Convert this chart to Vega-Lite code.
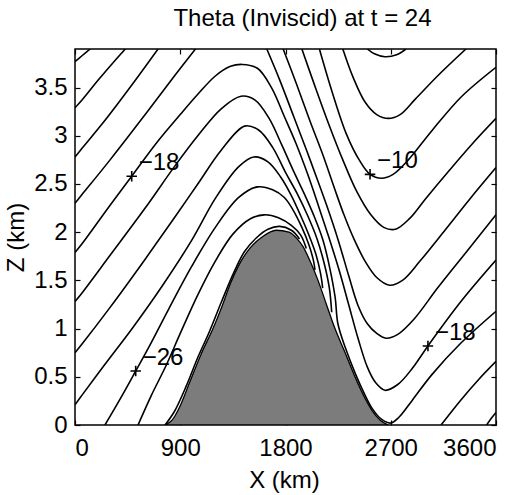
{
  "$schema": "https://vega.github.io/schema/vega-lite/v6.json",
  "width": 421,
  "height": 376,
  "autosize": {"type": "none"},
  "padding": {"left": 75, "top": 49, "right": 32, "bottom": 70},
  "background": "white",
  "config": {
    "view": {"stroke": "black", "strokeWidth": 1.5},
    "axis": {
      "grid": false, "domain": false,
      "labelFont": "Liberation Sans", "labelFontSize": 24, "labelColor": "black",
      "tickColor": "black", "tickSize": -5, "tickWidth": 1.2,
      "titleFont": "Liberation Sans", "titleFontSize": 24, "titleFontWeight": "normal", "titleColor": "black"
    }
  },
  "title": {"text": "Theta (Inviscid) at t = 24", "font": "Liberation Sans", "fontSize": 24, "fontWeight": "normal", "color": "black", "baseline": "alphabetic", "offset": -2, "dx": 17},
  "datasets": {
    "mountain": [
      {"x": 770, "z": 0}, {"x": 830, "z": 0.05}, {"x": 900, "z": 0.2}, {"x": 983, "z": 0.45}, {"x": 1080, "z": 0.74},
      {"x": 1180, "z": 1.0}, {"x": 1260, "z": 1.24}, {"x": 1330, "z": 1.47}, {"x": 1420, "z": 1.7}, {"x": 1500, "z": 1.84},
      {"x": 1600, "z": 1.95}, {"x": 1720, "z": 2.02}, {"x": 1830, "z": 2.0}, {"x": 1900, "z": 1.93}, {"x": 1950, "z": 1.85},
      {"x": 2010, "z": 1.7}, {"x": 2078, "z": 1.5}, {"x": 2150, "z": 1.25}, {"x": 2223, "z": 1.0}, {"x": 2310, "z": 0.75},
      {"x": 2394, "z": 0.5}, {"x": 2470, "z": 0.3}, {"x": 2540, "z": 0.15}, {"x": 2610, "z": 0.05}, {"x": 2680, "z": 0}
    ],
    "contours": [
      {"c": "L10", "i": 1, "x": 0, "z": 3.77}, {"c": "L10", "i": 2, "x": 60, "z": 3.83}, {"c": "L10", "i": 3, "x": 130, "z": 3.9},
      {"c": "L12", "i": 1, "x": 0, "z": 3.29}, {"c": "L12", "i": 2, "x": 60, "z": 3.37}, {"c": "L12", "i": 3, "x": 200, "z": 3.58}, {"c": "L12", "i": 4, "x": 320, "z": 3.75}, {"c": "L12", "i": 5, "x": 430, "z": 3.9},
      {"c": "L14", "i": 1, "x": 0, "z": 2.78}, {"c": "L14", "i": 2, "x": 60, "z": 2.87}, {"c": "L14", "i": 3, "x": 250, "z": 3.15}, {"c": "L14", "i": 4, "x": 500, "z": 3.55}, {"c": "L14", "i": 5, "x": 710, "z": 3.9},
      {"c": "L16", "i": 1, "x": 0, "z": 2.30}, {"c": "L16", "i": 2, "x": 60, "z": 2.39}, {"c": "L16", "i": 3, "x": 300, "z": 2.75}, {"c": "L16", "i": 4, "x": 600, "z": 3.22}, {"c": "L16", "i": 5, "x": 850, "z": 3.62}, {"c": "L16", "i": 6, "x": 1030, "z": 3.9},
      {"c": "L18", "i": 1, "x": 0, "z": 1.79}, {"c": "L18", "i": 2, "x": 60, "z": 1.88}, {"c": "L18", "i": 3, "x": 300, "z": 2.28}, {"c": "L18", "i": 4, "x": 485, "z": 2.58}, {"c": "L18", "i": 5, "x": 700, "z": 2.93},
      {"c": "L18", "i": 6, "x": 900, "z": 3.22}, {"c": "L18", "i": 7, "x": 1050, "z": 3.43}, {"c": "L18", "i": 8, "x": 1200, "z": 3.62}, {"c": "L18", "i": 9, "x": 1330, "z": 3.72}, {"c": "L18", "i": 10, "x": 1430, "z": 3.74},
      {"c": "L18", "i": 11, "x": 1560, "z": 3.7}, {"c": "L18", "i": 12, "x": 1680, "z": 3.5}, {"c": "L18", "i": 13, "x": 1790, "z": 3.2}, {"c": "L18", "i": 14, "x": 1890, "z": 2.92}, {"c": "L18", "i": 15, "x": 1990, "z": 2.6},
      {"c": "L18", "i": 16, "x": 2080, "z": 2.28}, {"c": "L18", "i": 17, "x": 2170, "z": 1.95}, {"c": "L18", "i": 18, "x": 2260, "z": 1.6}, {"c": "L18", "i": 19, "x": 2340, "z": 1.25}, {"c": "L18", "i": 20, "x": 2420, "z": 0.9},
      {"c": "L18", "i": 21, "x": 2500, "z": 0.6}, {"c": "L18", "i": 22, "x": 2570, "z": 0.44}, {"c": "L18", "i": 23, "x": 2650, "z": 0.36}, {"c": "L18", "i": 24, "x": 2760, "z": 0.42}, {"c": "L18", "i": 25, "x": 2880, "z": 0.58},
      {"c": "L18", "i": 26, "x": 3018, "z": 0.82}, {"c": "L18", "i": 27, "x": 3300, "z": 1.28}, {"c": "L18", "i": 28, "x": 3600, "z": 1.71},
      {"c": "L20", "i": 1, "x": 0, "z": 1.28}, {"c": "L20", "i": 2, "x": 60, "z": 1.37}, {"c": "L20", "i": 3, "x": 300, "z": 1.76}, {"c": "L20", "i": 4, "x": 600, "z": 2.25}, {"c": "L20", "i": 5, "x": 850, "z": 2.68},
      {"c": "L20", "i": 6, "x": 1050, "z": 3.0}, {"c": "L20", "i": 7, "x": 1250, "z": 3.28}, {"c": "L20", "i": 8, "x": 1420, "z": 3.41}, {"c": "L20", "i": 9, "x": 1540, "z": 3.37}, {"c": "L20", "i": 10, "x": 1660, "z": 3.18},
      {"c": "L20", "i": 11, "x": 1770, "z": 2.9}, {"c": "L20", "i": 12, "x": 1870, "z": 2.63}, {"c": "L20", "i": 13, "x": 1960, "z": 2.4}, {"c": "L20", "i": 14, "x": 2040, "z": 2.18}, {"c": "L20", "i": 15, "x": 2120, "z": 1.92},
      {"c": "L20", "i": 16, "x": 2180, "z": 1.62}, {"c": "L20", "i": 17, "x": 2225, "z": 1.32}, {"c": "L20", "i": 18, "x": 2248, "z": 1.05}, {"c": "L20", "i": 19, "x": 2315, "z": 0.79}, {"c": "L20", "i": 20, "x": 2398, "z": 0.53},
      {"c": "L20", "i": 21, "x": 2472, "z": 0.33}, {"c": "L20", "i": 22, "x": 2542, "z": 0.17}, {"c": "L20", "i": 23, "x": 2620, "z": 0.06}, {"c": "L20", "i": 24, "x": 2700, "z": 0.02}, {"c": "L20", "i": 25, "x": 2770, "z": 0.08},
      {"c": "L20", "i": 26, "x": 2880, "z": 0.25}, {"c": "L20", "i": 27, "x": 3050, "z": 0.52}, {"c": "L20", "i": 28, "x": 3300, "z": 0.85}, {"c": "L20", "i": 29, "x": 3600, "z": 1.18},
      {"c": "L22", "i": 1, "x": 0, "z": 0.75}, {"c": "L22", "i": 2, "x": 60, "z": 0.84}, {"c": "L22", "i": 3, "x": 300, "z": 1.22}, {"c": "L22", "i": 4, "x": 600, "z": 1.72}, {"c": "L22", "i": 5, "x": 850, "z": 2.15},
      {"c": "L22", "i": 6, "x": 1050, "z": 2.5}, {"c": "L22", "i": 7, "x": 1250, "z": 2.85}, {"c": "L22", "i": 8, "x": 1450, "z": 3.1}, {"c": "L22", "i": 9, "x": 1570, "z": 3.06}, {"c": "L22", "i": 10, "x": 1690, "z": 2.88},
      {"c": "L22", "i": 11, "x": 1800, "z": 2.62}, {"c": "L22", "i": 12, "x": 1900, "z": 2.4}, {"c": "L22", "i": 13, "x": 1990, "z": 2.17}, {"c": "L22", "i": 14, "x": 2070, "z": 1.93}, {"c": "L22", "i": 15, "x": 2130, "z": 1.68},
      {"c": "L22", "i": 16, "x": 2175, "z": 1.42}, {"c": "L22", "i": 17, "x": 2195, "z": 1.17},
      {"c": "L24", "i": 1, "x": 0, "z": 0.21}, {"c": "L24", "i": 2, "x": 60, "z": 0.31}, {"c": "L24", "i": 3, "x": 250, "z": 0.62}, {"c": "L24", "i": 4, "x": 500, "z": 1.02}, {"c": "L24", "i": 5, "x": 750, "z": 1.45},
      {"c": "L24", "i": 6, "x": 1000, "z": 1.92}, {"c": "L24", "i": 7, "x": 1200, "z": 2.35}, {"c": "L24", "i": 8, "x": 1400, "z": 2.68}, {"c": "L24", "i": 9, "x": 1530, "z": 2.78}, {"c": "L24", "i": 10, "x": 1650, "z": 2.73},
      {"c": "L24", "i": 11, "x": 1760, "z": 2.57}, {"c": "L24", "i": 12, "x": 1850, "z": 2.38}, {"c": "L24", "i": 13, "x": 1930, "z": 2.17}, {"c": "L24", "i": 14, "x": 2000, "z": 1.97}, {"c": "L24", "i": 15, "x": 2060, "z": 1.77},
      {"c": "L24", "i": 16, "x": 2100, "z": 1.57}, {"c": "L24", "i": 17, "x": 2118, "z": 1.42},
      {"c": "L26", "i": 1, "x": 256, "z": 0}, {"c": "L26", "i": 2, "x": 400, "z": 0.3}, {"c": "L26", "i": 3, "x": 519, "z": 0.56}, {"c": "L26", "i": 4, "x": 650, "z": 0.85}, {"c": "L26", "i": 5, "x": 800, "z": 1.2},
      {"c": "L26", "i": 6, "x": 1000, "z": 1.65}, {"c": "L26", "i": 7, "x": 1200, "z": 2.05}, {"c": "L26", "i": 8, "x": 1400, "z": 2.36}, {"c": "L26", "i": 9, "x": 1560, "z": 2.47}, {"c": "L26", "i": 10, "x": 1690, "z": 2.44},
      {"c": "L26", "i": 11, "x": 1790, "z": 2.36}, {"c": "L26", "i": 12, "x": 1860, "z": 2.24}, {"c": "L26", "i": 13, "x": 1940, "z": 2.05}, {"c": "L26", "i": 14, "x": 2000, "z": 1.87}, {"c": "L26", "i": 15, "x": 2040, "z": 1.7}, {"c": "L26", "i": 16, "x": 2052, "z": 1.61},
      {"c": "L28", "i": 1, "x": 539, "z": 0}, {"c": "L28", "i": 2, "x": 650, "z": 0.3}, {"c": "L28", "i": 3, "x": 780, "z": 0.62}, {"c": "L28", "i": 4, "x": 900, "z": 0.95}, {"c": "L28", "i": 5, "x": 1050, "z": 1.35},
      {"c": "L28", "i": 6, "x": 1200, "z": 1.7}, {"c": "L28", "i": 7, "x": 1350, "z": 1.98}, {"c": "L28", "i": 8, "x": 1500, "z": 2.14}, {"c": "L28", "i": 9, "x": 1620, "z": 2.18}, {"c": "L28", "i": 10, "x": 1740, "z": 2.15},
      {"c": "L28", "i": 11, "x": 1850, "z": 2.07}, {"c": "L28", "i": 12, "x": 1930, "z": 1.97}, {"c": "L28", "i": 13, "x": 1978, "z": 1.83},
      {"c": "L30", "i": 1, "x": 770, "z": 0}, {"c": "L30", "i": 2, "x": 850, "z": 0.14}, {"c": "L30", "i": 3, "x": 950, "z": 0.4}, {"c": "L30", "i": 4, "x": 1050, "z": 0.7}, {"c": "L30", "i": 5, "x": 1150, "z": 0.97},
      {"c": "L30", "i": 6, "x": 1250, "z": 1.27}, {"c": "L30", "i": 7, "x": 1350, "z": 1.56}, {"c": "L30", "i": 8, "x": 1450, "z": 1.8}, {"c": "L30", "i": 9, "x": 1550, "z": 1.94}, {"c": "L30", "i": 10, "x": 1650, "z": 2.03},
      {"c": "L30", "i": 11, "x": 1750, "z": 2.06}, {"c": "L30", "i": 12, "x": 1850, "z": 2.02}, {"c": "L30", "i": 13, "x": 1920, "z": 1.93},
      {"c": "R16", "i": 1, "x": 1640, "z": 3.9}, {"c": "R16", "i": 2, "x": 1750, "z": 3.58}, {"c": "R16", "i": 3, "x": 1870, "z": 3.2}, {"c": "R16", "i": 4, "x": 1980, "z": 2.85}, {"c": "R16", "i": 5, "x": 2080, "z": 2.52},
      {"c": "R16", "i": 6, "x": 2160, "z": 2.25}, {"c": "R16", "i": 7, "x": 2250, "z": 1.92}, {"c": "R16", "i": 8, "x": 2340, "z": 1.55}, {"c": "R16", "i": 9, "x": 2420, "z": 1.24}, {"c": "R16", "i": 10, "x": 2500, "z": 1.05},
      {"c": "R16", "i": 11, "x": 2580, "z": 0.95}, {"c": "R16", "i": 12, "x": 2660, "z": 0.9}, {"c": "R16", "i": 13, "x": 2760, "z": 0.94}, {"c": "R16", "i": 14, "x": 2900, "z": 1.1}, {"c": "R16", "i": 15, "x": 3100, "z": 1.42},
      {"c": "R16", "i": 16, "x": 3350, "z": 1.8}, {"c": "R16", "i": 17, "x": 3600, "z": 2.18},
      {"c": "R14", "i": 1, "x": 1780, "z": 3.9}, {"c": "R14", "i": 2, "x": 1890, "z": 3.55}, {"c": "R14", "i": 3, "x": 2010, "z": 3.15}, {"c": "R14", "i": 4, "x": 2120, "z": 2.8}, {"c": "R14", "i": 5, "x": 2220, "z": 2.45},
      {"c": "R14", "i": 6, "x": 2300, "z": 2.18}, {"c": "R14", "i": 7, "x": 2385, "z": 1.93}, {"c": "R14", "i": 8, "x": 2480, "z": 1.7}, {"c": "R14", "i": 9, "x": 2580, "z": 1.53}, {"c": "R14", "i": 10, "x": 2690, "z": 1.45},
      {"c": "R14", "i": 11, "x": 2800, "z": 1.5}, {"c": "R14", "i": 12, "x": 2950, "z": 1.7}, {"c": "R14", "i": 13, "x": 3150, "z": 2.0}, {"c": "R14", "i": 14, "x": 3380, "z": 2.35}, {"c": "R14", "i": 15, "x": 3600, "z": 2.67},
      {"c": "R12", "i": 1, "x": 1940, "z": 3.9}, {"c": "R12", "i": 2, "x": 2050, "z": 3.52}, {"c": "R12", "i": 3, "x": 2170, "z": 3.12}, {"c": "R12", "i": 4, "x": 2290, "z": 2.75}, {"c": "R12", "i": 5, "x": 2410, "z": 2.42},
      {"c": "R12", "i": 6, "x": 2530, "z": 2.18}, {"c": "R12", "i": 7, "x": 2640, "z": 2.05}, {"c": "R12", "i": 8, "x": 2740, "z": 2.03}, {"c": "R12", "i": 9, "x": 2860, "z": 2.14}, {"c": "R12", "i": 10, "x": 3000, "z": 2.35},
      {"c": "R12", "i": 11, "x": 3200, "z": 2.64}, {"c": "R12", "i": 12, "x": 3400, "z": 2.92}, {"c": "R12", "i": 13, "x": 3600, "z": 3.18},
      {"c": "R10", "i": 1, "x": 2090, "z": 3.9}, {"c": "R10", "i": 2, "x": 2200, "z": 3.45}, {"c": "R10", "i": 3, "x": 2320, "z": 3.02}, {"c": "R10", "i": 4, "x": 2430, "z": 2.75}, {"c": "R10", "i": 5, "x": 2523, "z": 2.6},
      {"c": "R10", "i": 6, "x": 2620, "z": 2.56}, {"c": "R10", "i": 7, "x": 2720, "z": 2.6}, {"c": "R10", "i": 8, "x": 2850, "z": 2.75}, {"c": "R10", "i": 9, "x": 3050, "z": 3.05}, {"c": "R10", "i": 10, "x": 3300, "z": 3.4}, {"c": "R10", "i": 11, "x": 3600, "z": 3.71},
      {"c": "R8", "i": 1, "x": 2290, "z": 3.9}, {"c": "R8", "i": 2, "x": 2380, "z": 3.6}, {"c": "R8", "i": 3, "x": 2480, "z": 3.35}, {"c": "R8", "i": 4, "x": 2580, "z": 3.22}, {"c": "R8", "i": 5, "x": 2680, "z": 3.18},
      {"c": "R8", "i": 6, "x": 2780, "z": 3.22}, {"c": "R8", "i": 7, "x": 2910, "z": 3.38}, {"c": "R8", "i": 8, "x": 3100, "z": 3.62}, {"c": "R8", "i": 9, "x": 3343, "z": 3.9},
      {"c": "R6", "i": 1, "x": 2500, "z": 3.9}, {"c": "R6", "i": 2, "x": 2560, "z": 3.85}, {"c": "R6", "i": 3, "x": 2650, "z": 3.82}, {"c": "R6", "i": 4, "x": 2750, "z": 3.84}, {"c": "R6", "i": 5, "x": 2830, "z": 3.9},
      {"c": "R22", "i": 1, "x": 3130, "z": 0}, {"c": "R22", "i": 2, "x": 3300, "z": 0.26}, {"c": "R22", "i": 3, "x": 3450, "z": 0.47}, {"c": "R22", "i": 4, "x": 3600, "z": 0.66},
      {"c": "R24", "i": 1, "x": 3520, "z": 0}, {"c": "R24", "i": 2, "x": 3560, "z": 0.07}, {"c": "R24", "i": 3, "x": 3600, "z": 0.13}
    ],
    "labels": [
      {"x": 485, "z": 2.58, "label": "−18"},
      {"x": 2523, "z": 2.6, "label": "−10"},
      {"x": 519, "z": 0.56, "label": "−26"},
      {"x": 3018, "z": 0.82, "label": "−18"}
    ]
  },
  "layer": [
    {
      "data": {"name": "mountain"},
      "mark": {"type": "area", "fill": "#7c7c7c", "stroke": "black", "strokeWidth": 1.3, "interpolate": "monotone", "clip": true},
      "encoding": {
        "x": {"field": "x", "type": "quantitative", "scale": {"domain": [0, 3600], "nice": false},
          "axis": {"orient": "bottom", "values": [0, 900, 1800, 2700, 3600], "format": "d", "labelPadding": 16, "title": "X (km)", "titleX": 209, "titleY": 62, "titleBaseline": "alphabetic", "titleAnchor": "start", "titleAlign": "center"}},
        "y": {"field": "z", "type": "quantitative", "scale": {"domain": [0, 3.9], "nice": false, "zero": false},
          "axis": {"orient": "left", "values": [0, 0.5, 1, 1.5, 2, 2.5, 3, 3.5], "format": "~g", "labelPadding": 13, "title": "Z (km)", "titleX": -52, "titleY": 188, "titleBaseline": "alphabetic", "titleAlign": "center", "titleAngle": 270}}
      }
    },
    {
      "data": {"name": "contours"},
      "mark": {"type": "line", "color": "black", "strokeWidth": 1.6, "interpolate": "catmull-rom", "clip": true},
      "encoding": {
        "x": {"field": "x", "type": "quantitative", "axis": null},
        "y": {"field": "z", "type": "quantitative", "axis": null},
        "detail": {"field": "c"},
        "order": {"field": "i", "type": "quantitative"}
      }
    },
    {
      "data": {"name": "labels"},
      "mark": {"type": "point", "shape": "M-1,0L1,0M0,-1L0,1", "size": 110, "filled": false, "stroke": "black", "strokeWidth": 1.6, "opacity": 1},
      "encoding": {
        "x": {"field": "x", "type": "quantitative", "axis": {"orient": "top", "labels": false, "title": null, "values": [0, 900, 1800, 2700, 3600]}},
        "y": {"field": "z", "type": "quantitative", "axis": {"orient": "right", "labels": false, "title": null, "values": [0, 0.5, 1, 1.5, 2, 2.5, 3, 3.5]}}
      }
    },
    {
      "data": {"name": "labels"},
      "mark": {"type": "text", "align": "left", "baseline": "middle", "dx": 7, "dy": -13, "font": "Liberation Sans", "fontSize": 24, "color": "black"},
      "encoding": {
        "x": {"field": "x", "type": "quantitative", "axis": null},
        "y": {"field": "z", "type": "quantitative", "axis": null},
        "text": {"field": "label"}
      }
    }
  ]
}
